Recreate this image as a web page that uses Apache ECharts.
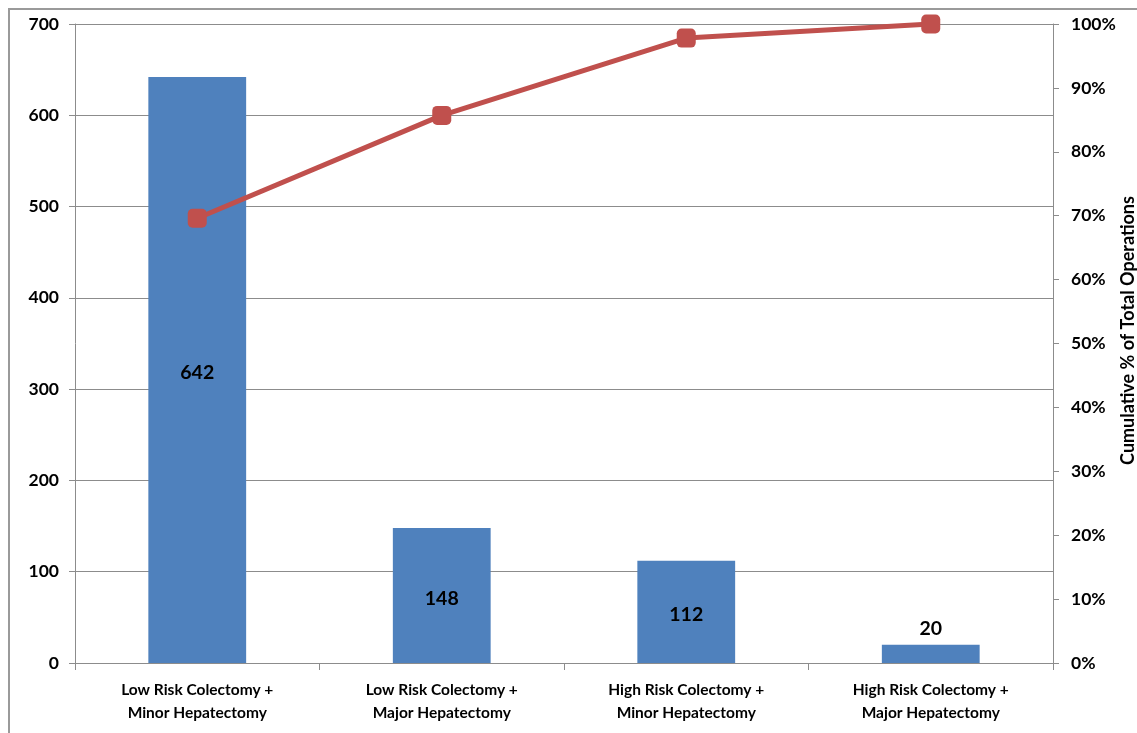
<!DOCTYPE html>
<html>
<head>
<meta charset="utf-8">
<title>Operations by procedure type</title>
<script src="https://cdn.jsdelivr.net/npm/echarts@6/dist/echarts.min.js"></script>
<style>
  html, body { margin: 0; padding: 0; background: #fff; }
  #chart { width: 1137px; height: 733px; }
</style>
</head>
<body>
<div id="chart"></div>
<script>
// Procedure categories (two-line labels)
const categories = [
  'Low Risk Colectomy +\nMinor Hepatectomy',
  'Low Risk Colectomy +\nMajor Hepatectomy',
  'High Risk Colectomy +\nMinor Hepatectomy',
  'High Risk Colectomy +\nMajor Hepatectomy'
];
// Number of operations per category
const operations = [642, 148, 112, 20];
// Cumulative share of all operations, in percent
const cumulativePct = [69.6, 85.7, 97.8, 100];
// Right-axis title
const rightAxisName = 'Cumulative % of Total Operations';

const FONT = 'Lato, "Open Sans", sans-serif';
const AXIS_GRAY = '#8c8c8c';

const chart = echarts.init(document.getElementById('chart'), null, { renderer: 'canvas' });

chart.setOption({
  animation: false,
  backgroundColor: '#ffffff',
  graphic: [{
    type: 'rect',
    shape: { x: 9, y: 9, width: 1300, height: 900 },
    style: { fill: 'none', stroke: '#9a9a9a', lineWidth: 2 },
    silent: true,
    z: -10
  }],
  grid: { left: 75, right: 84, top: 24, bottom: 70, outerBoundsMode: 'none', containLabel: false },
  xAxis: {
    type: 'category',
    data: categories,
    axisLine: { show: true, lineStyle: { color: AXIS_GRAY, width: 1 } },
    axisTick: { show: true, length: 7, lineStyle: { color: AXIS_GRAY } },
    axisLabel: {
      color: '#000', fontFamily: FONT, fontSize: 15.5, fontWeight: 'bold',
      lineHeight: 23, margin: 15, interval: 0
    },
    splitLine: { show: false }
  },
  yAxis: [{
    type: 'value',
    min: 0, max: 700, interval: 100,
    position: 'left',
    axisLine: { show: true, lineStyle: { color: AXIS_GRAY } },
    axisTick: { show: true, inside: false, length: 6, lineStyle: { color: AXIS_GRAY } },
    axisLabel: { color: '#000', fontFamily: FONT, fontSize: 17.5, fontWeight: 'bold', margin: 16 },
    splitLine: { show: true, lineStyle: { color: AXIS_GRAY, width: 1 } }
  }, {
    type: 'value',
    min: 0, max: 100, interval: 10,
    position: 'right',
    name: rightAxisName,
    nameLocation: 'middle',
    nameRotate: 90,
    nameGap: 66,
    nameMoveOverlap: false,
    nameTextStyle: {
      color: '#000', fontFamily: FONT, fontSize: 18, fontWeight: 'bold',
      padding: [0, 0, 0, 26]
    },
    axisLine: { show: true, lineStyle: { color: AXIS_GRAY } },
    axisTick: { show: true, length: 6, lineStyle: { color: AXIS_GRAY } },
    axisLabel: {
      color: '#000', fontFamily: FONT, fontSize: 17.5, fontWeight: 'bold', margin: 18,
      formatter: '{value}%'
    },
    splitLine: { show: false }
  }],
  series: [{
    type: 'bar',
    name: 'Operations',
    data: operations.map((v, i) => ({
      value: v,
      label: i === operations.length - 1
        ? { show: true, position: 'top', distance: 6 }
        : { show: true, position: 'inside', offset: [0, 3] }
    })),
    barWidth: '40%',
    itemStyle: { color: '#4F81BD' },
    label: { color: '#000', fontFamily: FONT, fontSize: 19.5, fontWeight: 'bold' },
    z: 2
  }, {
    type: 'line',
    name: 'Cumulative %',
    yAxisIndex: 1,
    data: cumulativePct,
    symbol: 'roundRect',
    symbolSize: 19,
    lineStyle: { color: '#C0504D', width: 5 },
    itemStyle: { color: '#C0504D' },
    z: 3
  }]
});
</script>
</body>
</html>
